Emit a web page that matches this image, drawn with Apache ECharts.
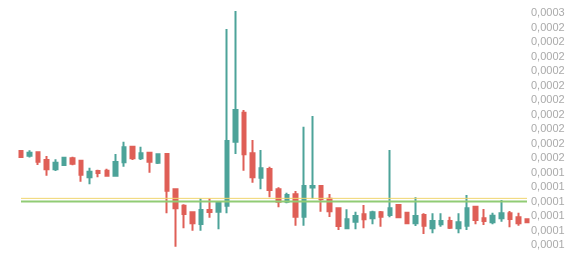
<!DOCTYPE html>
<html>
<head>
<meta charset="utf-8">
<script src="https://cdn.jsdelivr.net/npm/echarts@6/dist/echarts.min.js"></script>
<style>
html,body{margin:0;padding:0;background:#fff;}
#chart{width:584px;height:258px;}
</style>
</head>
<body>
<div id="chart"></div>
<script>
// Categories (time periods, unlabeled in the reference)
var categories = ['1','2','3','4','5','6','7','8','9','10','11','12','13','14','15','16','17','18','19','20',
  '21','22','23','24','25','26','27','28','29','30','31','32','33','34','35','36','37','38','39','40',
  '41','42','43','44','45','46','47','48','49','50','51','52','53','54','55','56','57','58','59','60'];

// OHLC values
var opens = [15.49e-5,15.17e-5,15.40e-5,14.87e-5,14.23e-5,14.52e-5,14.99e-5,14.82e-5,13.67e-5,14.11e-5,
  14.13e-5,13.78e-5,14.71e-5,15.79e-5,14.99e-5,15.37e-5,14.68e-5,15.28e-5,12.85e-5,11.71e-5,
  11.26e-5,10.45e-5,11.42e-5,11.30e-5,11.71e-5,16.13e-5,18.14e-5,15.33e-5,13.65e-5,14.25e-5,
  12.85e-5,11.99e-5,12.50e-5,10.95e-5,12.97e-5,13.07e-5,12.20e-5,11.53e-5,10.15e-5,10.61e-5,
  11.12e-5,10.84e-5,11.26e-5,11.07e-5,11.76e-5,11.23e-5,10.50e-5,11.07e-5,10.15e-5,10.43e-5,
  10.66e-5,10.15e-5,10.33e-5,11.64e-5,10.84e-5,10.57e-5,10.84e-5,11.19e-5,10.91e-5,10.77e-5];
var closes = [15.08e-5,15.37e-5,14.75e-5,14.23e-5,14.68e-5,15.03e-5,14.61e-5,13.85e-5,14.06e-5,13.97e-5,
  13.78e-5,14.73e-5,15.75e-5,14.99e-5,15.33e-5,14.75e-5,15.26e-5,12.75e-5,11.53e-5,11.14e-5,
  10.50e-5,11.42e-5,11.28e-5,11.95e-5,16.18e-5,18.32e-5,15.26e-5,13.67e-5,14.30e-5,12.80e-5,
  11.99e-5,12.45e-5,10.95e-5,13.07e-5,13.08e-5,12.15e-5,11.33e-5,10.31e-5,10.77e-5,11.00e-5,
  10.77e-5,11.26e-5,10.95e-5,11.53e-5,10.91e-5,10.50e-5,11.00e-5,10.33e-5,10.66e-5,10.66e-5,
  10.19e-5,10.57e-5,11.53e-5,10.73e-5,10.66e-5,11.02e-5,11.19e-5,10.79e-5,10.50e-5,10.57e-5];
var lows = [15.03e-5,15.05e-5,14.52e-5,13.78e-5,14.11e-5,14.48e-5,14.50e-5,13.37e-5,13.19e-5,13.67e-5,
  13.72e-5,13.72e-5,14.41e-5,14.87e-5,14.87e-5,13.99e-5,14.59e-5,11.19e-5,8.88e-5,10.15e-5,
  9.99e-5,9.99e-5,10.88e-5,10.08e-5,11.19e-5,15.28e-5,14.13e-5,13.30e-5,12.85e-5,12.29e-5,
  11.60e-5,11.88e-5,10.33e-5,10.33e-5,12.18e-5,11.30e-5,10.93e-5,10.03e-5,10.08e-5,10.08e-5,
  10.15e-5,10.43e-5,10.26e-5,10.91e-5,10.84e-5,10.43e-5,10.31e-5,9.76e-5,9.81e-5,10.26e-5,
  10.10e-5,9.81e-5,10.03e-5,10.43e-5,10.38e-5,10.43e-5,10.61e-5,10.22e-5,10.33e-5,10.50e-5];
var highs = [15.54e-5,15.54e-5,15.47e-5,15.14e-5,14.92e-5,15.10e-5,15.10e-5,14.87e-5,14.34e-5,14.20e-5,
  14.27e-5,15.28e-5,16.13e-5,15.86e-5,15.79e-5,15.40e-5,15.33e-5,15.30e-5,12.91e-5,11.81e-5,
  11.30e-5,12.22e-5,12.22e-5,11.99e-5,23.92e-5,25.16e-5,18.32e-5,16.25e-5,15.56e-5,14.41e-5,
  12.98e-5,12.61e-5,12.73e-5,17.17e-5,17.91e-5,13.14e-5,12.52e-5,11.60e-5,11.46e-5,11.30e-5,
  11.76e-5,11.37e-5,11.35e-5,15.56e-5,11.81e-5,11.30e-5,12.29e-5,11.19e-5,11.19e-5,11.19e-5,
  10.95e-5,11.19e-5,12.45e-5,11.69e-5,11.48e-5,11.23e-5,12.11e-5,11.35e-5,11.23e-5,10.84e-5];

// Horizontal reference levels
var levelYellow = 12.22e-5;
var levelGreen = 12.00e-5;

// Y axis tick values and their labels
var tickValues = [9e-5,10e-5,11e-5,12e-5,13e-5,14e-5,15e-5,16e-5,17e-5,18e-5,19e-5,20e-5,21e-5,22e-5,23e-5,24e-5,25e-5];
var tickLabels = ['0,0001','0,0001','0,0001','0,0001','0,0001','0,0001','0,0002','0,0002','0,0002','0,0002',
  '0,0002','0,0002','0,0002','0,0002','0,0002','0,0002','0,0003'];

var ohlc = categories.map(function (c, i) {
  return [opens[i], closes[i], lows[i], highs[i]];
});
var firstCat = categories[0];
var lastCat = categories[categories.length - 1];

var chart = echarts.init(document.getElementById('chart'), null, {renderer: 'canvas'});
chart.setOption({
  animation: false,
  backgroundColor: '#ffffff',
  grid: {left: 21, right: 57, top: 11, bottom: 11},
  xAxis: {
    type: 'category',
    data: categories,
    boundaryGap: false,
    axisLine: {show: false},
    axisTick: {show: false},
    axisLabel: {show: false},
    splitLine: {show: false}
  },
  yAxis: {
    type: 'value',
    position: 'right',
    min: 8.86e-5,
    max: 25.16e-5,
    axisLine: {show: false},
    axisTick: {show: false},
    splitLine: {show: false},
    axisLabel: {
      customValues: tickValues,
      margin: 4,
      color: '#aaaaaa',
      fontSize: 11,
      fontFamily: 'Liberation Sans, Arial, sans-serif',
      formatter: function (v) {
        for (var i = 0; i < tickValues.length; i++) {
          if (Math.abs(tickValues[i] - v) < 1e-9) return tickLabels[i];
        }
        return '';
      }
    }
  },
  series: [{
    type: 'candlestick',
    data: ohlc,
    barWidth: 4,
    z: 2,
    itemStyle: {
      color: '#4da399',
      color0: '#df5f57',
      borderColor: '#4da399',
      borderColor0: '#df5f57',
      borderWidth: 2
    }
  }, {
    type: 'line',
    data: [[firstCat, levelYellow], [lastCat, levelYellow]],
    symbol: 'none',
    silent: true,
    lineStyle: {color: '#f0d56e', width: 1},
    z: 4
  }, {
    type: 'line',
    data: [[firstCat, levelGreen], [lastCat, levelGreen]],
    symbol: 'none',
    silent: true,
    lineStyle: {color: '#91cc75', width: 2},
    z: 4
  }]
});
</script>
</body>
</html>
